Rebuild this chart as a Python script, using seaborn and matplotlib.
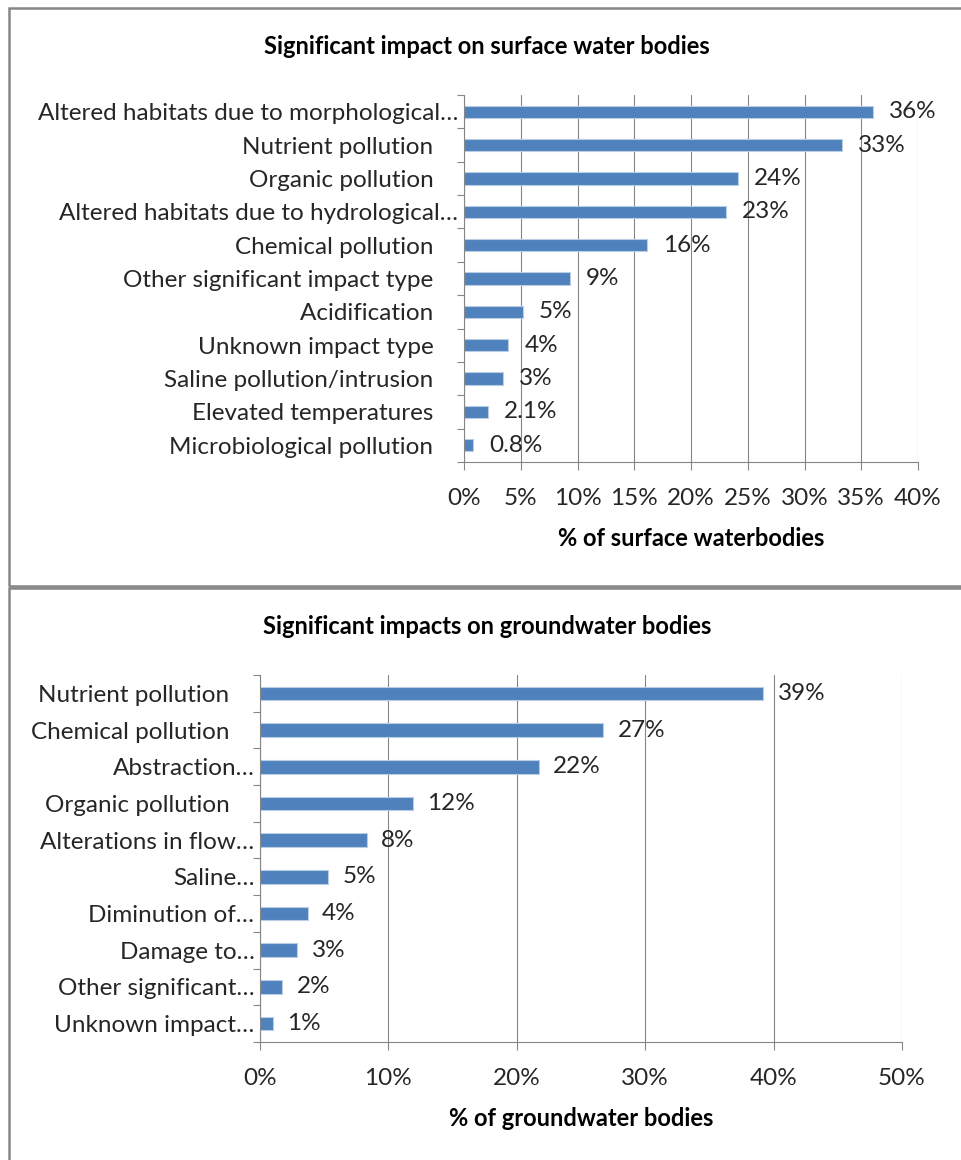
import numpy as np
import pandas as pd
import matplotlib
matplotlib.use("Agg")
import matplotlib.pyplot as plt
from matplotlib.patches import Rectangle
from matplotlib.ticker import FixedLocator, PercentFormatter
import seaborn as sns

# ---------------- data ----------------
SP = "    "
surface_categories = [
    "Altered habitats due to morphological\u2026",
    "Nutrient pollution" + SP,
    "Organic pollution" + SP,
    "Altered habitats due to hydrological\u2026",
    "Chemical pollution" + SP,
    "Other significant impact type" + SP,
    "Acidification" + SP,
    "Unknown impact type" + SP,
    "Saline pollution/intrusion" + SP,
    "Elevated temperatures" + SP,
    "Microbiological pollution" + SP,
]
surface_values = [36.0, 33.3, 24.1, 23.1, 16.1, 9.3, 5.2, 3.9, 3.4, 2.1, 0.8]
surface_labels = ["36%", "33%", "24%", "23%", "16%", "9%", "5%", "4%", "3%", "2.1%", "0.8%"]
surface_ticks = [0, 5, 10, 15, 20, 25, 30, 35, 40]

ground_categories = [
    "Nutrient pollution" + SP,
    "Chemical pollution" + SP,
    "Abstraction\u2026",
    "Organic pollution" + SP,
    "Alterations in flow\u2026",
    "Saline\u2026",
    "Diminution of\u2026",
    "Damage to\u2026",
    "Other significant\u2026",
    "Unknown impact\u2026",
]
ground_values = [39.2, 26.7, 21.7, 11.9, 8.3, 5.3, 3.7, 2.9, 1.7, 1.0]
ground_labels = ["39%", "27%", "22%", "12%", "8%", "5%", "4%", "3%", "2%", "1%"]
ground_ticks = [0, 10, 20, 30, 40, 50]

# ---------------- style ----------------
sns.set_theme(style="white")
plt.rcParams["font.family"] = ["Lato", "DejaVu Sans"]

W, H = 961, 1160
fig = plt.figure(figsize=(W / 100, H / 100), dpi=100)
fig.patch.set_facecolor("white")

BAR = "#4F81BD"
GRID = "#868686"
TXT = "#262626"
FS = 17.5
FSB = 17


def px_axes(x0, y0, x1, y1):
    return fig.add_axes([x0 / W, 1 - y1 / H, (x1 - x0) / W, (y1 - y0) / H])


def draw_panel(ax, cats, vals, labels, ticks, xlabel, pad_pts):
    df = pd.DataFrame({"cat": cats, "val": vals})
    sns.barplot(data=df, y="cat", x="val", order=cats, orient="h", color=BAR,
                width=0.37, saturation=1, edgecolor="#B9CDE5", linewidth=0.8, ax=ax)
    n = len(cats)
    ax.set_ylim(n - 0.5, -0.5)
    ax.set_xlim(ticks[0], ticks[-1])
    ax.xaxis.set_major_locator(FixedLocator(ticks))
    ax.xaxis.set_major_formatter(PercentFormatter(decimals=0))
    ax.grid(axis="x", color=GRID, linewidth=0.8)
    ax.set_axisbelow(True)
    for s in ["top", "right"]:
        ax.spines[s].set_visible(False)
    for s in ["left", "bottom"]:
        ax.spines[s].set_color(GRID)
        ax.spines[s].set_linewidth(0.8)
    ax.yaxis.set_minor_locator(FixedLocator(np.arange(-0.5, n, 1.0)))
    ax.tick_params(axis="y", which="major", length=0, pad=4, labelsize=FS, labelcolor=TXT)
    ax.tick_params(axis="y", which="minor", left=True, length=5, width=0.8, color=GRID, direction="out")
    ax.tick_params(axis="x", which="major", bottom=True, length=6, width=0.8, color=GRID,
                   direction="out", pad=12.5, labelsize=FS, labelcolor=TXT)
    ax.set_ylabel("")
    ax.set_xlabel(xlabel, fontsize=FSB, fontweight="bold", color="black", labelpad=13)
    ax.bar_label(ax.containers[0], labels=labels, padding=pad_pts, fontsize=FS, color=TXT)


# top panel
ax1 = px_axes(464, 95, 918, 462)
draw_panel(ax1, surface_categories, surface_values, surface_labels, surface_ticks,
           "% of surface waterbodies", 11.5)
fig.text(487 / W, 1 - 46 / H, "Significant impact on surface water bodies",
         ha="center", va="center", fontsize=FSB, fontweight="bold", color="black")

# bottom panel
ax2 = px_axes(260, 675, 902, 1042)
draw_panel(ax2, ground_categories, ground_values, ground_labels, ground_ticks,
           "% of groundwater bodies", 10.5)
fig.text(487 / W, 1 - 627 / H, "Significant impacts on groundwater bodies",
         ha="center", va="center", fontsize=FSB, fontweight="bold", color="black")

# panel borders
BORDER = "#878787"
fig.patches.append(Rectangle((9 / W, 1 - 586 / H), 1.2, (586 - 8) / H,
                             transform=fig.transFigure, fill=False,
                             edgecolor=BORDER, linewidth=1.8, figure=fig))
fig.patches.append(Rectangle((9 / W, -0.2), 1.2, 0.2 + (1160 - 588) / H,
                             transform=fig.transFigure, fill=False,
                             edgecolor=BORDER, linewidth=1.8, figure=fig))

fig.savefig("out.png", dpi=100, facecolor="white")
